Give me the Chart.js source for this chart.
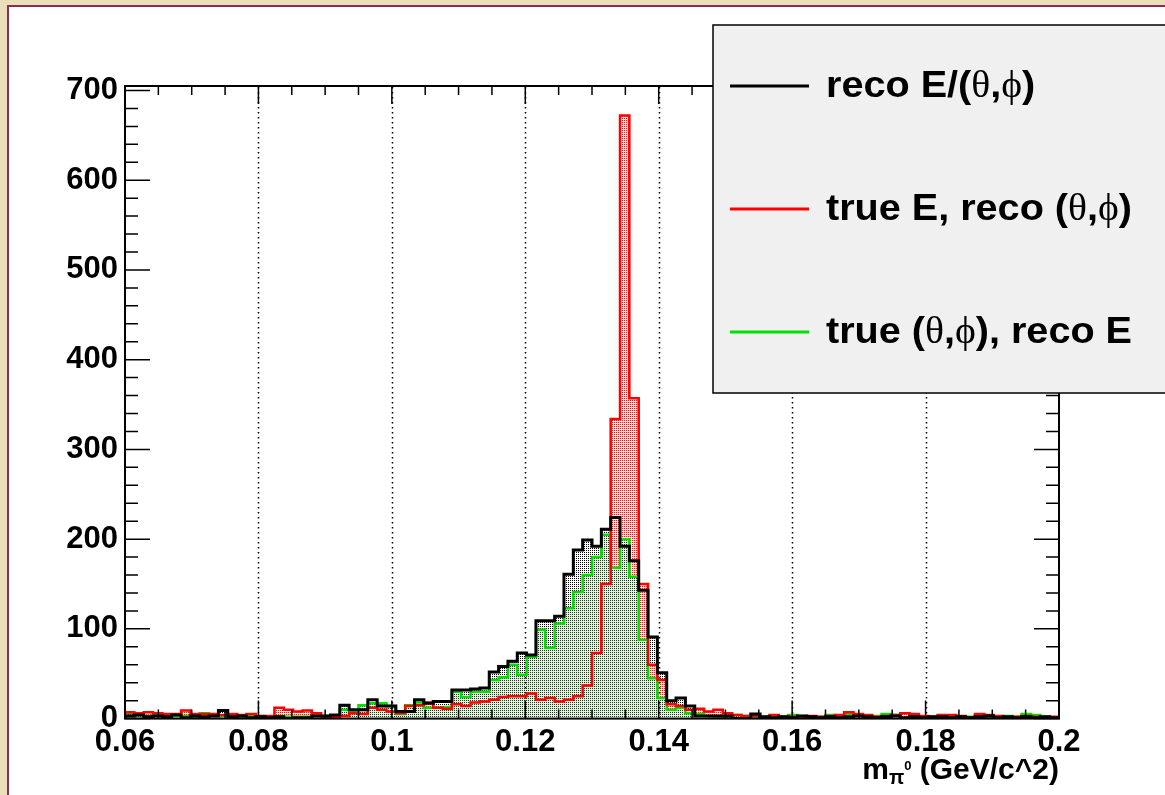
<!DOCTYPE html>
<html>
<head>
<meta charset="utf-8">
<script src="https://cdn.jsdelivr.net/npm/chart.js@4.4.0/dist/chart.umd.min.js"></script>
<style>
  html, body { margin: 0; padding: 0; }
  body { width: 1165px; height: 795px; background: #ebdfba; position: relative; overflow: hidden; }
  #panel { position: absolute; left: 7px; top: 5px; width: 1170px; height: 800px; background: #fff;
           border-left: 2px solid #8a2c58; border-top: 2px solid #8a2c58; }
  #chart { position: absolute; left: 0; top: 0; }
</style>
</head>
<body>
<div id="panel"></div>
<canvas id="chart" width="1165" height="795"></canvas>
<script>
// histogram binning (m_pi0, GeV/c^2)
var xMin = 0.06;
var xMax = 0.2;
var nBins = 100;
var xTickStep = 0.02;
var yMax = 705;
var yTicks = [0, 100, 200, 300, 400, 500, 600, 700];

// legend labels
var labels = ['reco E/(θ,ϕ)', 'true E, reco (θ,ϕ)', 'true (θ,ϕ), reco E'];
var xTitle = ['m', 'π', '0', ' (GeV/c^2)'];

// bin contents
var recoAll = [
  3, 4, 2, 3, 2, 4, 1, 3, 2, 3,
  9, 2, 3, 1, 2, 1, 2, 0, 1, 1,
  3, 3, 4, 15, 10, 10, 21, 14, 14, 8,
  8, 21, 17, 19, 19, 32, 32, 33, 34, 52,
  58, 64, 73, 71, 109, 109, 114, 161, 188, 199,
  192, 211, 224, 192, 176, 143, 91, 51, 20, 23,
  14, 3, 3, 3, 3, 0, 0, 5, 2, 1,
  2, 1, 3, 2, 1, 2, 1, 2, 3, 2,
  1, 2, 3, 1, 2, 1, 2, 2, 1, 2,
  1, 2, 3, 1, 2, 1, 2, 1, 2, 1
];
var trueE = [
  7, 6, 7, 6, 5, 5, 9, 5, 5, 5,
  4, 5, 4, 5, 3, 3, 12, 10, 8, 9,
  6, 2, 2, 3, 6, 5, 12, 10, 8, 6,
  14, 15, 18, 12, 11, 16, 14, 18, 19, 21,
  24, 25, 25, 28, 21, 23, 19, 21, 25, 37,
  73, 150, 334, 672, 357, 150, 60, 43, 16, 14,
  10, 11, 8, 10, 6, 4, 3, 3, 1, 4,
  2, 2, 1, 3, 2, 3, 4, 7, 5, 4,
  2, 3, 4, 6, 5, 3, 2, 4, 4, 3,
  1, 5, 4, 3, 1, 2, 3, 2, 1, 2
];
var trueAngles = [
  6, 4, 3, 4, 4, 3, 3, 2, 6, 4,
  3, 3, 2, 3, 3, 2, 3, 2, 2, 2,
  3, 3, 3, 10, 8, 15, 17, 17, 14, 5,
  15, 18, 12, 12, 13, 30, 24, 30, 30, 43,
  46, 60, 49, 69, 99, 79, 106, 123, 141, 160,
  180, 205, 168, 200, 158, 88, 45, 23, 10, 12,
  6, 5, 3, 2, 1, 4, 3, 1, 2, 3,
  2, 4, 3, 1, 2, 4, 3, 5, 4, 2,
  3, 5, 4, 1, 3, 2, 1, 3, 2, 1,
  2, 3, 1, 2, 3, 2, 5, 4, 2, 1
];

var colors = ['#000000', '#ff0000', '#00e000'];

var binWidth = (xMax - xMin) / nBins;

// point list for a stepped outline: left edge of every bin, closed to 0 on both sides
function histPoints(values) {
  var pts = [{x: xMin, y: 0}];
  values.forEach(function(v, k) { pts.push({x: xMin + k * binWidth, y: v}); });
  pts.push({x: xMax, y: 0});
  return pts;
}

// dotted fill like root's fill style
function dotPattern(bg, dot) {
  var c = document.createElement('canvas');
  c.width = 2; c.height = 2;
  var g = c.getContext('2d');
  g.fillStyle = bg; g.fillRect(0, 0, 2, 2);
  g.fillStyle = dot; g.fillRect(0, 0, 1, 1);
  return g.createPattern(c, 'repeat');
}

function fillSet(values, pattern, order) {
  return { data: histPoints(values), stepped: true, fill: 'origin', backgroundColor: pattern,
           borderColor: 'transparent', borderWidth: 0, pointRadius: 0, order: order };
}
function lineSet(values, color, width, order) {
  return { data: histPoints(values), stepped: true, fill: false, borderColor: color,
           borderWidth: width, pointRadius: 0, order: order };
}

// frame, ticks and dotted grid the root way
var frame = {
  id: 'frame',
  beforeDatasetsDraw: function(chart) {
    var ctx = chart.ctx, a = chart.chartArea, xs = chart.scales.x;
    ctx.save();
    ctx.strokeStyle = '#000';
    ctx.lineWidth = 1.5;
    ctx.setLineDash([1.5, 3.5]);
    xs.ticks.forEach(function(t) {
      var px = Math.round(xs.getPixelForValue(t.value)) + 0.5;
      if (px <= a.left + 2 || px >= a.right - 2) return;
      ctx.beginPath(); ctx.moveTo(px, a.bottom); ctx.lineTo(px, a.top); ctx.stroke();
    });
    ctx.restore();
  },
  afterDatasetsDraw: function(chart) {
    var ctx = chart.ctx, a = chart.chartArea, xs = chart.scales.x, ys = chart.scales.y;
    ctx.save();
    ctx.strokeStyle = '#000';
    ctx.lineWidth = 1.5;
    var i, px, len;
    for (i = 0; i <= 28; i++) {
      px = xs.getPixelForValue(xMin + i * 0.005);
      len = (i % 4 === 0) ? 18 : 9;
      ctx.beginPath();
      ctx.moveTo(px, a.bottom); ctx.lineTo(px, a.bottom - len);
      ctx.moveTo(px, a.top); ctx.lineTo(px, a.top + len);
      ctx.stroke();
    }
    for (i = 0; i * 20 <= yMax; i++) {
      px = ys.getPixelForValue(i * 20);
      len = (i % 5 === 0) ? 25 : 13;
      ctx.beginPath();
      ctx.moveTo(a.left, px); ctx.lineTo(a.left + len, px);
      ctx.moveTo(a.right, px); ctx.lineTo(a.right - len, px);
      ctx.stroke();
    }
    ctx.lineWidth = 2;
    ctx.strokeRect(a.left, a.top, a.right - a.left, a.bottom - a.top);
    ctx.restore();
  }
};

// text with greek letters in a serif face, a bit stretched like the root output
function richText(ctx, text, x, y, size, stretch) {
  ctx.save();
  ctx.translate(x, y);
  ctx.scale(stretch, 1);
  var cx = 0;
  for (var i = 0; i < text.length; i++) {
    var ch = text[i];
    ctx.font = ('θϕ'.indexOf(ch) >= 0) ? size + 'px "Liberation Serif", "DejaVu Serif"' : 'bold ' + size + 'px "Liberation Sans"';
    ctx.fillText(ch, cx, 0);
    cx += ctx.measureText(ch).width;
  }
  ctx.restore();
}

var legendBox = {
  id: 'legendBox',
  afterDraw: function(chart) {
    var ctx = chart.ctx;
    ctx.save();
    ctx.fillStyle = '#f0f0f0';
    ctx.fillRect(713, 25, 480, 368);
    ctx.strokeStyle = '#000';
    ctx.lineWidth = 1.5;
    ctx.strokeRect(713, 25, 480, 368);
    var rows = [86, 209, 332];
    labels.forEach(function(txt, i) {
      ctx.strokeStyle = colors[i];
      ctx.lineWidth = 3;
      ctx.beginPath(); ctx.moveTo(730, rows[i]); ctx.lineTo(809, rows[i]); ctx.stroke();
      ctx.fillStyle = '#000';
      ctx.textBaseline = 'middle';
      richText(ctx, txt, 826, rows[i] + 1, 37, 1.07);
    });

    // x axis title, right aligned on the frame
    var a = chart.chartArea;
    var sizes = [30, 20, 13, 30];
    var drops = [0, 5, -9, 0];
    var w = 0;
    ctx.textBaseline = 'alphabetic';
    xTitle.forEach(function(s, i) { ctx.font = 'bold ' + sizes[i] + 'px "Liberation Sans"'; w += ctx.measureText(s).width; });
    var x = a.right - w;
    xTitle.forEach(function(s, i) {
      ctx.font = 'bold ' + sizes[i] + 'px "Liberation Sans"';
      ctx.fillText(s, x, 779 + drops[i]);
      x += ctx.measureText(s).width;
    });
    ctx.restore();
  }
};

var tickFont = { family: '"Liberation Sans", Arial, sans-serif', size: 31, weight: 'bold' };

new Chart(document.getElementById('chart'), {
  type: 'line',
  data: {
    datasets: [
      lineSet(recoAll, colors[0], 3, 1),
      lineSet(trueE, colors[1], 2.5, 2),
      lineSet(trueAngles, colors[2], 2.5, 3),
      fillSet(trueAngles, dotPattern('#e6eee0', '#1e3a1e'), 4),
      fillSet(trueE, dotPattern('#ffe0e0', '#f01818'), 5),
      fillSet(recoAll, dotPattern('#ffffff', '#000000'), 6)
    ]
  },
  options: {
    responsive: false,
    animation: false,
    devicePixelRatio: 1,
    layout: { padding: { left: 0, top: 86, right: 106, bottom: 0 } },
    plugins: {
      legend: { display: false },
      tooltip: { enabled: false },
      filler: { drawTime: 'beforeDatasetsDraw' }
    },
    scales: {
      x: {
        type: 'linear', min: xMin, max: xMax,
        grid: { display: false, drawTicks: false }, border: { display: false },
        ticks: { stepSize: xTickStep, color: '#000', font: tickFont, padding: 5, maxRotation: 0,
                 callback: function(v) { return String(+v.toFixed(3)); } },
        afterFit: function(s) { s.height = 76.4; }
      },
      y: {
        min: 0, max: yMax,
        grid: { display: false, drawTicks: false }, border: { display: false },
        ticks: { color: '#000', font: tickFont, padding: 7 },
        afterBuildTicks: function(s) { s.ticks = yTicks.map(function(v) { return {value: v}; }); },
        afterFit: function(s) { s.width = 125; }
      }
    }
  },
  plugins: [frame, legendBox]
});
</script>
</body>
</html>
